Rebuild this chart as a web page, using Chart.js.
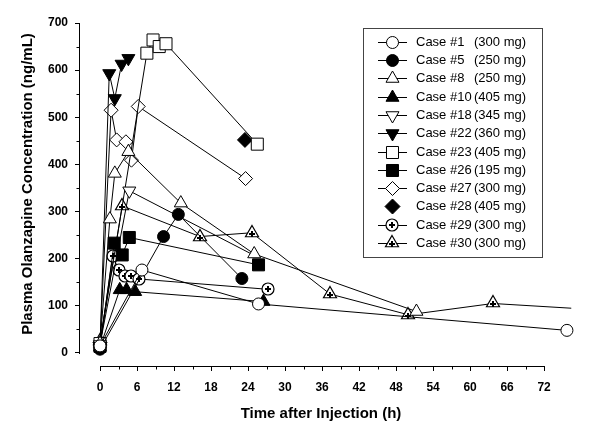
<!DOCTYPE html>
<html lang="en">
<head>
<meta charset="UTF-8">
<title>Plasma Olanzapine Concentration</title>
<script src="https://cdn.jsdelivr.net/npm/chart.js"></script>
<style>
  html, body { margin: 0; padding: 0; background: #fff; }
  #wrap { width: 600px; height: 447px; }
</style>
</head>
<body>
<div id="wrap"><canvas id="olzChart" width="600" height="447"></canvas></div>
<script>
  // [hours after injection, ng/mL]
  const caseNames = ['Case #1', 'Case #5', 'Case #8', 'Case #10', 'Case #18', 'Case #22',
                     'Case #23', 'Case #26', 'Case #27', 'Case #28', 'Case #29', 'Case #30'];
  const caseDoses = ['(300 mg)', '(250 mg)', '(250 mg)', '(405 mg)', '(345 mg)', '(360 mg)',
                     '(405 mg)', '(195 mg)', '(300 mg)', '(405 mg)', '(300 mg)', '(300 mg)'];

  const case1  = [[0, 15], [6.8, 176], [25.7, 104], [75.7, 48]];
  const case5  = [[0, 8], [10.3, 247], [12.7, 294], [23.0, 158]];
  const case8  = [[0, 20], [1.6, 284], [2.4, 381], [4.6, 427], [13.1, 318], [25.0, 210], [51.3, 88]];
  const case10 = [[0, 12], [3.2, 134], [4.3, 134], [5.7, 130], [26.5, 109]];
  const case18 = [[0, 18], [4.75, 344], [25.3, 205]];
  const case22 = [[0, 15], [1.5, 593], [2.4, 540], [3.5, 613], [4.6, 625]];
  const case23 = [[0, 20], [7.6, 636], [8.6, 664], [9.6, 650], [10.7, 656], [25.5, 443]];
  const case26 = [[0, 14], [2.3, 233], [3.6, 208], [4.75, 245], [25.7, 187]];
  const case27 = [[0, 22], [1.8, 515], [2.7, 452], [4.2, 448], [5.1, 409], [6.2, 523], [23.6, 370]];
  const case28 = [[23.5, 452]];
  const case29 = [[0, 16], [2.05, 205], [3.1, 175], [4.1, 163], [5.1, 163], [6.3, 157], [27.3, 135]];
  const case30 = [[0, 25], [3.6, 312], [16.2, 247], [24.6, 255], [37.3, 125], [50.0, 81], [63.7, 105], [76.4, 95]];

  const xTickValues = [0, 6, 12, 18, 24, 30, 36, 42, 48, 54, 60, 66, 72];
  const yTickValues = [0, 100, 200, 300, 400, 500, 600, 700];
  const xMinorValues = [3, 9, 15, 21, 27, 33, 39, 45, 51, 57, 63, 69];
  const yMinorValues = [50, 150, 250, 350, 450, 550, 650];

  const caseData = [case1, case5, case8, case10, case18, case22, case23, case26, case27, case28, case29, case30];

  // axes are drawn detached from the data origin, so the ranges run a bit past 0
  const X_MIN = -3.243, X_MAX = 74.9;
  const Y_MIN = -27.6, Y_MAX = 700;

  const FONT = 'Arial, "Liberation Sans", sans-serif';
  Chart.defaults.font.family = FONT;
  Chart.defaults.color = '#000';

  // circle / triangle with a plus sign inside, drawn pixel-aligned
  function plusMarker(kind, r) {
    const s = 2 * Math.ceil(r + 2);
    const c = document.createElement('canvas');
    c.width = s; c.height = s;
    const g = c.getContext('2d');
    const m = s / 2;
    g.strokeStyle = '#000';
    g.fillStyle = '#fff';
    g.lineWidth = 1.2;
    g.beginPath();
    if (kind === 'circle') {
      g.arc(m, m, r, 0, Math.PI * 2);
    } else {
      g.moveTo(m, m - r);
      g.lineTo(m + r * 0.866, m + r * 0.5);
      g.lineTo(m - r * 0.866, m + r * 0.5);
      g.closePath();
    }
    g.fill();
    g.stroke();
    g.fillStyle = '#000';
    const a = kind === 'circle' ? 3 : 3;
    const cy = kind === 'circle' ? m : m + 1;
    g.fillRect(m - a, cy - 1, 2 * a, 2);
    g.fillRect(m - 1, cy - a, 2, 2 * a);
    return c;
  }

  const markers = [
    { style: 'circle', fill: '#fff', radius: 6 },
    { style: 'circle', fill: '#000', radius: 6 },
    { style: 'triangle', fill: '#fff', radius: 7.5 },
    { style: 'triangle', fill: '#000', radius: 7.5 },
    { style: 'triangle', fill: '#fff', radius: 7.5, rotation: 180, lastHidden: true },
    { style: 'triangle', fill: '#000', radius: 7.5, rotation: 180 },
    { style: 'rect', fill: '#fff', radius: 8.5 },
    { style: 'rect', fill: '#000', radius: 8.5 },
    { style: 'rectRot', fill: '#fff', radius: 7 },
    { style: 'rectRot', fill: '#000', radius: 7.5, noLine: true },
    { style: plusMarker('circle', 6), fill: '#fff', radius: 6 },
    { style: plusMarker('triangle', 7.5), fill: '#fff', radius: 7.5, lastHidden: true }
  ];

  const datasets = caseData.map((pts, i) => {
    const m = markers[i];
    const r = m.lastHidden ? (c => c.dataIndex === pts.length - 1 ? 0 : m.radius) : m.radius;
    return {
      label: caseNames[i] + ' ' + caseDoses[i],
      data: pts.map(p => ({ x: p[0], y: p[1] })),
      showLine: !m.noLine,
      borderColor: '#000',
      borderWidth: 1,
      tension: 0,
      pointStyle: m.style,
      pointRotation: m.rotation || 0,
      pointRadius: r,
      pointHoverRadius: r,
      pointBackgroundColor: m.fill,
      pointBorderColor: '#000',
      pointBorderWidth: 1,
      clip: false
    };
  });

  // keep image markers crisp at fractional positions
  const crispImages = {
    id: 'crispImages',
    beforeDatasetsDraw(chart) { chart.ctx.imageSmoothingEnabled = false; },
    afterDatasetsDraw(chart) { chart.ctx.imageSmoothingEnabled = true; }
  };

  const axisLines = {
    id: 'axisLines',
    afterDraw(chart) {
      const { ctx, scales: { x, y } } = chart;
      const ax = chart.chartArea.left - 0.5;
      const ay = chart.chartArea.bottom + 0.5;
      ctx.save();
      ctx.strokeStyle = '#000';
      ctx.lineWidth = 1;
      ctx.beginPath();
      ctx.moveTo(ax, Math.round(y.getPixelForValue(Y_MAX)));
      ctx.lineTo(ax, Math.round(y.getPixelForValue(0)) + 1);
      ctx.moveTo(Math.round(x.getPixelForValue(0)), ay);
      ctx.lineTo(Math.round(x.getPixelForValue(72)) + 1, ay);
      yMinorValues.forEach(v => {
        const py = Math.round(y.getPixelForValue(v)) + 0.5;
        ctx.moveTo(ax - 3, py); ctx.lineTo(ax, py);
      });
      xMinorValues.forEach(v => {
        const px = Math.round(x.getPixelForValue(v)) + 0.5;
        ctx.moveTo(px, ay); ctx.lineTo(px, ay + 3);
      });
      ctx.stroke();

      // y title sits a little above the middle of the axis in the original
      ctx.translate(28, 184);
      ctx.rotate(-Math.PI / 2);
      ctx.font = 'bold 15px ' + FONT;
      ctx.fillStyle = '#000';
      ctx.textAlign = 'center';
      ctx.textBaseline = 'middle';
      ctx.fillText('Plasma Olanzapine Concentration (ng/mL)', 0, 0);
      ctx.restore();
    }
  };

  const boxLegend = {
    id: 'boxLegend',
    afterDraw(chart) {
      const ctx = chart.ctx;
      ctx.save();
      ctx.fillStyle = '#fff';
      ctx.fillRect(363.5, 28.5, 179, 229);
      ctx.strokeStyle = '#444';
      ctx.lineWidth = 1;
      ctx.strokeRect(363.5, 28.5, 179, 229);
      ctx.font = '13px ' + FONT;
      ctx.textBaseline = 'middle';
      caseNames.forEach((name, i) => {
        const m = markers[i];
        const yy = 41.7 + i * 18.3;
        const ly = Math.round(yy) + 0.5;
        if (!m.noLine) {
          ctx.strokeStyle = '#000';
          ctx.beginPath();
          ctx.moveTo(378, ly); ctx.lineTo(407, ly);
          ctx.stroke();
        }
        ctx.fillStyle = m.fill;
        ctx.strokeStyle = '#000';
        ctx.lineWidth = 1;
        const isImage = typeof m.style === 'object';
        Chart.helpers.drawPoint(ctx, {
          pointStyle: m.style, rotation: m.rotation || 0, radius: m.radius, borderWidth: 1
        }, isImage ? 392 : 392.5, isImage ? Math.round(yy) : ly);
        ctx.fillStyle = '#000';
        ctx.textAlign = 'left';
        ctx.fillText(name, 416, yy + 0.5);
        ctx.fillText(caseDoses[i], 474, yy + 0.5);
      });
      ctx.restore();
    }
  };

  new Chart(document.getElementById('olzChart'), {
    type: 'scatter',
    data: { datasets: datasets },
    plugins: [crispImages, axisLines, boxLegend],
    options: {
      responsive: false,
      animation: false,
      events: [],
      layout: { padding: { left: 0, right: 38, top: 23, bottom: 0 } },
      plugins: {
        legend: { display: false },
        tooltip: { enabled: false }
      },
      scales: {
        x: {
          type: 'linear',
          min: X_MIN,
          max: X_MAX,
          afterBuildTicks: s => { s.ticks = xTickValues.map(v => ({ value: v })); },
          afterFit: s => { s.height = 81; },
          border: { display: false },
          grid: { drawOnChartArea: false, drawTicks: true, tickLength: 5, color: '#000', tickColor: '#000' },
          ticks: { font: { size: 12, weight: 'bold' }, color: '#000', padding: 9, maxRotation: 0, autoSkip: false },
          title: {
            display: true,
            text: 'Time after Injection (h)',
            font: { size: 15, weight: 'bold' },
            color: '#000',
            padding: { top: 0, bottom: 24 }
          }
        },
        y: {
          type: 'linear',
          min: Y_MIN,
          max: Y_MAX,
          afterBuildTicks: s => { s.ticks = yTickValues.map(v => ({ value: v })); },
          afterFit: s => { s.width = 80; },
          border: { display: false },
          grid: { drawOnChartArea: false, drawTicks: true, tickLength: 5, color: '#000', tickColor: '#000' },
          ticks: { font: { size: 12, weight: 'bold' }, color: '#000', padding: 7 }
        }
      }
    }
  });
</script>
</body>
</html>
